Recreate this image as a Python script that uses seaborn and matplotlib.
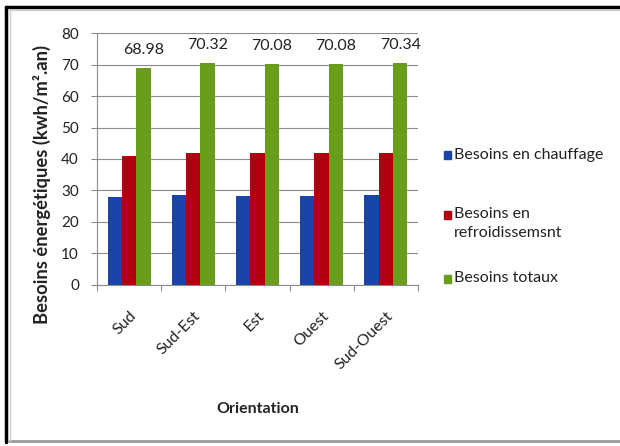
import matplotlib
matplotlib.use("Agg")
import matplotlib.pyplot as plt
from matplotlib.patches import Rectangle
from matplotlib.lines import Line2D
import seaborn as sns
import pandas as pd
import numpy as np

orientations = ["Sud", "Sud-Est", "Est", "Ouest", "Sud-Ouest"]
chauffage = [28.08, 28.50, 28.26, 28.26, 28.52]
refroidissement = [40.90, 41.82, 41.82, 41.82, 41.82]
totaux = [68.98, 70.32, 70.08, 70.08, 70.34]
series = ["Besoins en chauffage", "Besoins en\nrefroidissemsnt", "Besoins totaux"]
colors = ["#1A44A8", "#B0000F", "#6A9E1A"]

df = pd.DataFrame({
    "Orientation": orientations * 3,
    "Valeur": chauffage + refroidissement + totaux,
    "Série": [series[0]] * 5 + [series[1]] * 5 + [series[2]] * 5,
})

sns.set_theme(style="white")
plt.rcParams["font.family"] = ["Lato", "DejaVu Sans"]

TXT = "#222222"
fig = plt.figure(figsize=(6.2, 4.46), dpi=100)
ax = fig.add_axes([0.1565, 0.361, 0.5175, 0.565])

sns.barplot(data=df, x="Orientation", y="Valeur", hue="Série",
            palette=colors, width=0.67, gap=0, saturation=1,
            legend=False, ax=ax, edgecolor="none")

ax.set_ylim(0, 80)
ax.set_xlim(-0.5, 4.5)
ax.set_yticks(range(0, 81, 10))
ax.yaxis.grid(True, color="#8c8c8c", linewidth=0.8)
ax.set_axisbelow(True)
for s in ["top", "right"]:
    ax.spines[s].set_visible(False)
for s in ["left", "bottom"]:
    ax.spines[s].set_color("#8c8c8c")
    ax.spines[s].set_linewidth(0.8)

ax.tick_params(axis="y", which="major", length=4, width=0.8, color="#8c8c8c",
               labelsize=11, labelcolor=TXT, pad=9, left=True)
ax.set_xticks(np.arange(-0.5, 5.0, 1.0), minor=True)
ax.tick_params(axis="x", which="minor", length=4, width=0.8, color="#8c8c8c", bottom=True)
ax.tick_params(axis="x", which="major", length=0, pad=17)
ax.set_xticks(range(len(orientations)))
ax.set_xticklabels(orientations, rotation=45, ha="right", rotation_mode="anchor",
                   fontsize=11.5, color=TXT)

# value labels above the total bars
green = ax.containers[2]
for bar, v in zip(green, totaux):
    ax.annotate(f"{v:.2f}", (bar.get_x() + bar.get_width() / 2, v),
                xytext=(0, 8), textcoords="offset points",
                ha="center", va="bottom", fontsize=11.5, color=TXT)

ax.set_xlabel("Orientation", fontsize=11.5, fontweight="bold", color=TXT)
ax.xaxis.set_label_coords(0.5, -0.465)
ax.set_ylabel("Besoins énergétiques (kwh/m².an)", fontsize=13.2, fontweight="bold",
              color=TXT)
ax.yaxis.set_label_coords(-0.145, 0.40)

# legend on the right
W, H = 620, 446
legend_y = [155, 215, 279]
for c, lab, y in zip(colors, series, legend_y):
    fig.patches.append(Rectangle((444 / W, (H - y - 4) / H), 7 / W, 8 / H,
                                 transform=fig.transFigure, color=c))
    fig.text(454 / W, (H - y + 7.5) / H, lab, fontsize=11.5, va="top", ha="left",
             color=TXT, linespacing=1.45)

# outer frame
fig.add_artist(Line2D([6 / W, 6 / W], [1 - 7 / H, 1 - 442 / H], color="black",
                      linewidth=2.5, transform=fig.transFigure))
fig.add_artist(Line2D([6 / W, 1.0], [1 - 7 / H, 1 - 7 / H], color="black",
                      linewidth=2.5, transform=fig.transFigure))
fig.add_artist(Line2D([9 / W, 1.0], [1 - 441 / H, 1 - 441 / H], color="#9a9a9a",
                      linewidth=2, transform=fig.transFigure))
fig.add_artist(Line2D([10 / W, 10 / W], [1 - 10 / H, 1 - 441 / H], color="#cfcfcf",
                      linewidth=1, transform=fig.transFigure))
fig.add_artist(Line2D([10 / W, 1.0], [1 - 10 / H, 1 - 10 / H], color="#cfcfcf",
                      linewidth=1, transform=fig.transFigure))

fig.savefig("out.png", dpi=100)
